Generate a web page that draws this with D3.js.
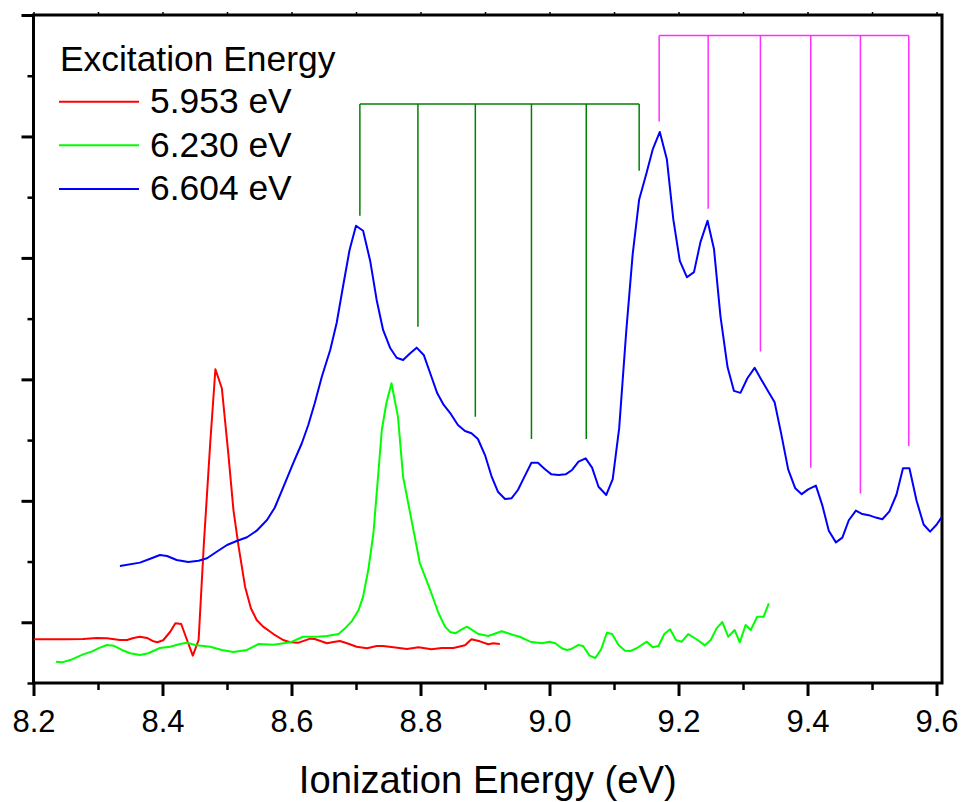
<!DOCTYPE html>
<html>
<head>
<meta charset="utf-8">
<script src="https://cdn.jsdelivr.net/npm/d3@7"></script>
<style>
  body { margin: 0; background: #fff; }
  svg { display: block; font-family: "Liberation Sans", Arial, sans-serif; }
</style>
</head>
<body>
<div id="chart"></div>
<script>
/* DATA: [ionization energy (eV), signal (arb. units)] */
const red5953 = [
  [8.201,0.360],[8.251,0.360],[8.277,0.362],[8.298,0.371],[8.314,0.368],[8.334,0.354],
  [8.345,0.354],[8.355,0.371],[8.365,0.381],[8.376,0.371],[8.386,0.343],[8.392,0.335],
  [8.401,0.352],[8.412,0.422],[8.420,0.492],[8.429,0.486],[8.438,0.354],[8.447,0.225],
  [8.456,0.354],[8.464,1.136],[8.474,1.976],[8.482,2.583],[8.492,2.427],[8.502,1.891],
  [8.510,1.424],[8.518,1.122],[8.528,0.793],[8.537,0.615],[8.546,0.519],[8.556,0.464],
  [8.572,0.403],[8.587,0.354],[8.598,0.335],[8.611,0.332],[8.629,0.365],[8.636,0.362],
  [8.655,0.327],[8.665,0.338],[8.675,0.346],[8.686,0.327],[8.701,0.299],[8.717,0.286],
  [8.732,0.305],[8.742,0.305],[8.758,0.294],[8.779,0.280],[8.797,0.294],[8.817,0.277],
  [8.833,0.288],[8.851,0.288],[8.869,0.310],[8.879,0.360],[8.892,0.343],[8.905,0.319],
  [8.913,0.327],[8.923,0.321]
];

const green6230 = [
  [8.235,0.175],[8.244,0.170],[8.257,0.189],[8.277,0.236],[8.290,0.258],[8.303,0.291],
  [8.314,0.313],[8.324,0.307],[8.337,0.272],[8.350,0.245],[8.365,0.231],[8.378,0.245],
  [8.396,0.288],[8.412,0.299],[8.427,0.321],[8.438,0.332],[8.453,0.310],[8.474,0.299],
  [8.492,0.272],[8.510,0.255],[8.531,0.272],[8.549,0.321],[8.572,0.315],[8.598,0.335],
  [8.618,0.381],[8.639,0.381],[8.655,0.387],[8.673,0.403],[8.683,0.450],[8.693,0.505],
  [8.704,0.601],[8.711,0.711],[8.719,0.930],[8.727,1.233],[8.735,1.754],[8.740,2.083],
  [8.747,2.303],[8.755,2.468],[8.765,2.193],[8.773,1.699],[8.784,1.397],[8.799,0.986],
  [8.815,0.766],[8.828,0.574],[8.838,0.464],[8.846,0.420],[8.854,0.409],[8.864,0.442],
  [8.872,0.464],[8.890,0.403],[8.905,0.387],[8.926,0.426],[8.944,0.395],[8.954,0.381],
  [8.970,0.340],[8.988,0.327],[9.000,0.340],[9.009,0.327],[9.019,0.286],[9.027,0.272],
  [9.034,0.280],[9.045,0.313],[9.052,0.305],[9.062,0.225],[9.071,0.206],[9.080,0.277],
  [9.089,0.414],[9.097,0.403],[9.107,0.313],[9.117,0.266],[9.125,0.263],[9.135,0.286],
  [9.151,0.340],[9.160,0.294],[9.169,0.305],[9.178,0.403],[9.187,0.442],[9.196,0.354],
  [9.205,0.340],[9.215,0.403],[9.228,0.360],[9.241,0.310],[9.250,0.354],[9.259,0.450],
  [9.268,0.502],[9.277,0.381],[9.287,0.436],[9.295,0.335],[9.304,0.478],[9.312,0.436],
  [9.322,0.546],[9.332,0.546],[9.340,0.656]
];

const blue6604 = [
  [8.334,0.963],[8.365,0.991],[8.383,1.027],[8.396,1.054],[8.407,1.046],[8.422,1.013],
  [8.440,0.996],[8.456,1.007],[8.469,1.027],[8.484,1.081],[8.500,1.136],[8.515,1.169],
  [8.531,1.200],[8.546,1.254],[8.562,1.342],[8.574,1.443],[8.587,1.608],[8.603,1.814],
  [8.616,1.974],[8.626,2.124],[8.636,2.303],[8.647,2.522],[8.660,2.742],[8.670,2.964],
  [8.680,3.269],[8.690,3.565],[8.700,3.765],[8.711,3.724],[8.722,3.475],[8.732,3.154],
  [8.742,2.907],[8.753,2.758],[8.763,2.678],[8.773,2.660],[8.784,2.715],[8.794,2.761],
  [8.805,2.701],[8.816,2.536],[8.826,2.385],[8.836,2.289],[8.847,2.215],[8.858,2.124],
  [8.869,2.075],[8.879,2.056],[8.889,2.009],[8.900,1.877],[8.910,1.704],[8.920,1.575],
  [8.931,1.515],[8.941,1.521],[8.951,1.589],[8.962,1.707],[8.972,1.814],[8.982,1.814],
  [8.993,1.760],[9.003,1.718],[9.014,1.713],[9.025,1.718],[9.035,1.754],[9.045,1.822],
  [9.056,1.850],[9.066,1.773],[9.076,1.616],[9.088,1.548],[9.098,1.678],[9.108,2.098],
  [9.119,2.898],[9.129,3.534],[9.139,3.981],[9.150,4.191],[9.160,4.393],[9.171,4.537],
  [9.182,4.310],[9.192,3.815],[9.202,3.475],[9.213,3.341],[9.224,3.383],[9.234,3.630],
  [9.245,3.806],[9.255,3.574],[9.265,3.021],[9.276,2.601],[9.286,2.405],[9.296,2.389],
  [9.307,2.511],[9.318,2.595],[9.328,2.501],[9.338,2.411],[9.349,2.312],[9.359,2.057],
  [9.370,1.759],[9.381,1.603],[9.391,1.555],[9.401,1.594],[9.413,1.625],[9.423,1.462],
  [9.433,1.254],[9.444,1.158],[9.454,1.197],[9.464,1.340],[9.475,1.419],[9.485,1.391],
  [9.495,1.382],[9.506,1.362],[9.516,1.348],[9.527,1.413],[9.538,1.552],[9.548,1.768],
  [9.558,1.768],[9.569,1.503],[9.580,1.305],[9.590,1.246],[9.600,1.303],[9.610,1.382]
];

// progression combs: line positions (eV), where each tine stops, and the bar level
const greenComb = [8.706, 8.796, 8.885, 8.972, 9.057, 9.139];
const greenCombEnds = [3.848, 2.934, 2.193, 2.009, 2.009, 4.218];
const greenCombBar = 4.767;
const magentaComb = [9.170, 9.246, 9.327, 9.405, 9.482, 9.557];
const magentaCombEnds = [4.623, 3.905, 2.729, 1.773, 1.560, 1.951];
const magentaCombBar = 5.331;

const legendLabels = ["5.953 eV", "6.230 eV", "6.604 eV"];
const xMajorTicks = [8.2, 8.4, 8.6, 8.8, 9.0, 9.2, 9.4, 9.6];
const xMinorTicks = [8.3, 8.5, 8.7, 8.9, 9.1, 9.3, 9.5];
const yMajorTicks = [0.5, 1.5, 2.5, 3.5, 4.5, 5.5];
const yMinorTicks = [0, 1, 2, 3, 4, 5];

/* CONSTANTS */
const width = 962, height = 802;
const margin = { top: 15, right: 20, bottom: 119, left: 33.5 };
const colors = ["#ff0000", "#00ff00", "#0000ff"];

const svg = d3.select("#chart").append("svg")
  .attr("width", width)
  .attr("height", height);

const xScale = d3.scaleLinear()
  .domain([8.2, 9.6085])
  .range([margin.left, width - margin.right]);

const yScale = d3.scaleLinear()
  .domain([0, 5.5])
  .range([height - margin.bottom, margin.top]);

const plotW = xScale.range()[1] - xScale.range()[0];
const plotH = yScale.range()[0] - yScale.range()[1];

svg.append("clipPath").attr("id", "clip")
  .append("rect")
  .attr("x", margin.left).attr("y", margin.top)
  .attr("width", plotW).attr("height", plotH);

// + AXES
const xAxisG = svg.append("g")
  .attr("transform", `translate(0, ${yScale(0)})`);

xAxisG.append("g")
  .call(d3.axisBottom(xScale).tickValues(xMinorTicks).tickSize(7).tickFormat(""))
  .call(g => g.select(".domain").remove())
  .call(g => g.selectAll("line").attr("stroke", "#000").attr("stroke-width", 2.5));

xAxisG.append("g")
  .call(d3.axisBottom(xScale).tickValues(xMajorTicks).tickSize(13).tickFormat(d3.format(".1f")))
  .call(g => g.select(".domain").remove())
  .call(g => g.selectAll("line").attr("stroke", "#000").attr("stroke-width", 3))
  .call(g => g.selectAll("text")
    .attr("y", 49).attr("dy", 0)
    .attr("fill", "#000")
    .attr("font-size", 31)
    .attr("font-family", "Liberation Sans, Arial, sans-serif"));

const yAxisG = svg.append("g")
  .attr("transform", `translate(${margin.left}, 0)`);

yAxisG.append("g")
  .call(d3.axisLeft(yScale).tickValues(yMinorTicks).tickSize(6).tickFormat(""))
  .call(g => g.select(".domain").remove())
  .call(g => g.selectAll("line").attr("stroke", "#000").attr("stroke-width", 2.5));

yAxisG.append("g")
  .call(d3.axisLeft(yScale).tickValues(yMajorTicks).tickSize(12).tickFormat(""))
  .call(g => g.select(".domain").remove())
  .call(g => g.selectAll("line").attr("stroke", "#000").attr("stroke-width", 3));

// tiny ticks on the top edge
svg.append("g")
  .attr("transform", `translate(0, ${margin.top})`)
  .call(d3.axisTop(xScale).tickValues(xMajorTicks.concat(xMinorTicks)).tickSize(3).tickFormat(""))
  .call(g => g.select(".domain").remove())
  .call(g => g.selectAll("line").attr("stroke", "#000").attr("stroke-width", 1.5));

// frame
svg.append("rect")
  .attr("x", margin.left).attr("y", margin.top)
  .attr("width", plotW).attr("height", plotH)
  .attr("fill", "none")
  .attr("stroke", "#000")
  .attr("stroke-width", 3);

svg.append("text")
  .attr("x", (xScale.range()[0] + xScale.range()[1]) / 2)
  .attr("y", 793)
  .attr("text-anchor", "middle")
  .attr("font-size", 38.2)
  .text("Ionization Energy (eV)");

// + COMBS
function drawComb(ticks, ends, bar, color) {
  const g = svg.append("g").attr("stroke", color).attr("stroke-width", 1.5).attr("fill", "none");
  g.append("line")
    .attr("x1", xScale(ticks[0])).attr("x2", xScale(ticks[ticks.length - 1]))
    .attr("y1", yScale(bar)).attr("y2", yScale(bar));
  g.selectAll("line.tine")
    .data(ticks)
    .join("line")
    .attr("class", "tine")
    .attr("x1", d => xScale(d)).attr("x2", d => xScale(d))
    .attr("y1", yScale(bar))
    .attr("y2", (d, i) => yScale(ends[i]));
}
drawComb(greenComb, greenCombEnds, greenCombBar, "#008000");
drawComb(magentaComb, magentaCombEnds, magentaCombBar, "#ff30ff");

// + CURVES
const line = d3.line()
  .x(d => xScale(d[0]))
  .y(d => yScale(d[1]));

svg.append("g")
  .attr("clip-path", "url(#clip)")
  .selectAll("path")
  .data([red5953, green6230, blue6604])
  .join("path")
  .attr("d", line)
  .attr("fill", "none")
  .attr("stroke", (d, i) => colors[i])
  .attr("stroke-width", 2)
  .attr("stroke-linejoin", "round");

// + LEGEND
const legend = svg.append("g");
legend.append("text")
  .attr("x", 60).attr("y", 71)
  .attr("font-size", 35.4)
  .text("Excitation Energy");

const rows = legend.selectAll("g.row")
  .data(legendLabels)
  .join("g")
  .attr("class", "row")
  .attr("transform", (d, i) => `translate(0, ${101.7 + i * 43.6})`);

rows.append("line")
  .attr("x1", 59).attr("x2", 139)
  .attr("stroke", (d, i) => colors[i])
  .attr("stroke-width", 2);

rows.append("text")
  .attr("x", 150).attr("y", 11.5)
  .attr("font-size", 35.4)
  .text(d => d);
</script>
</body>
</html>
